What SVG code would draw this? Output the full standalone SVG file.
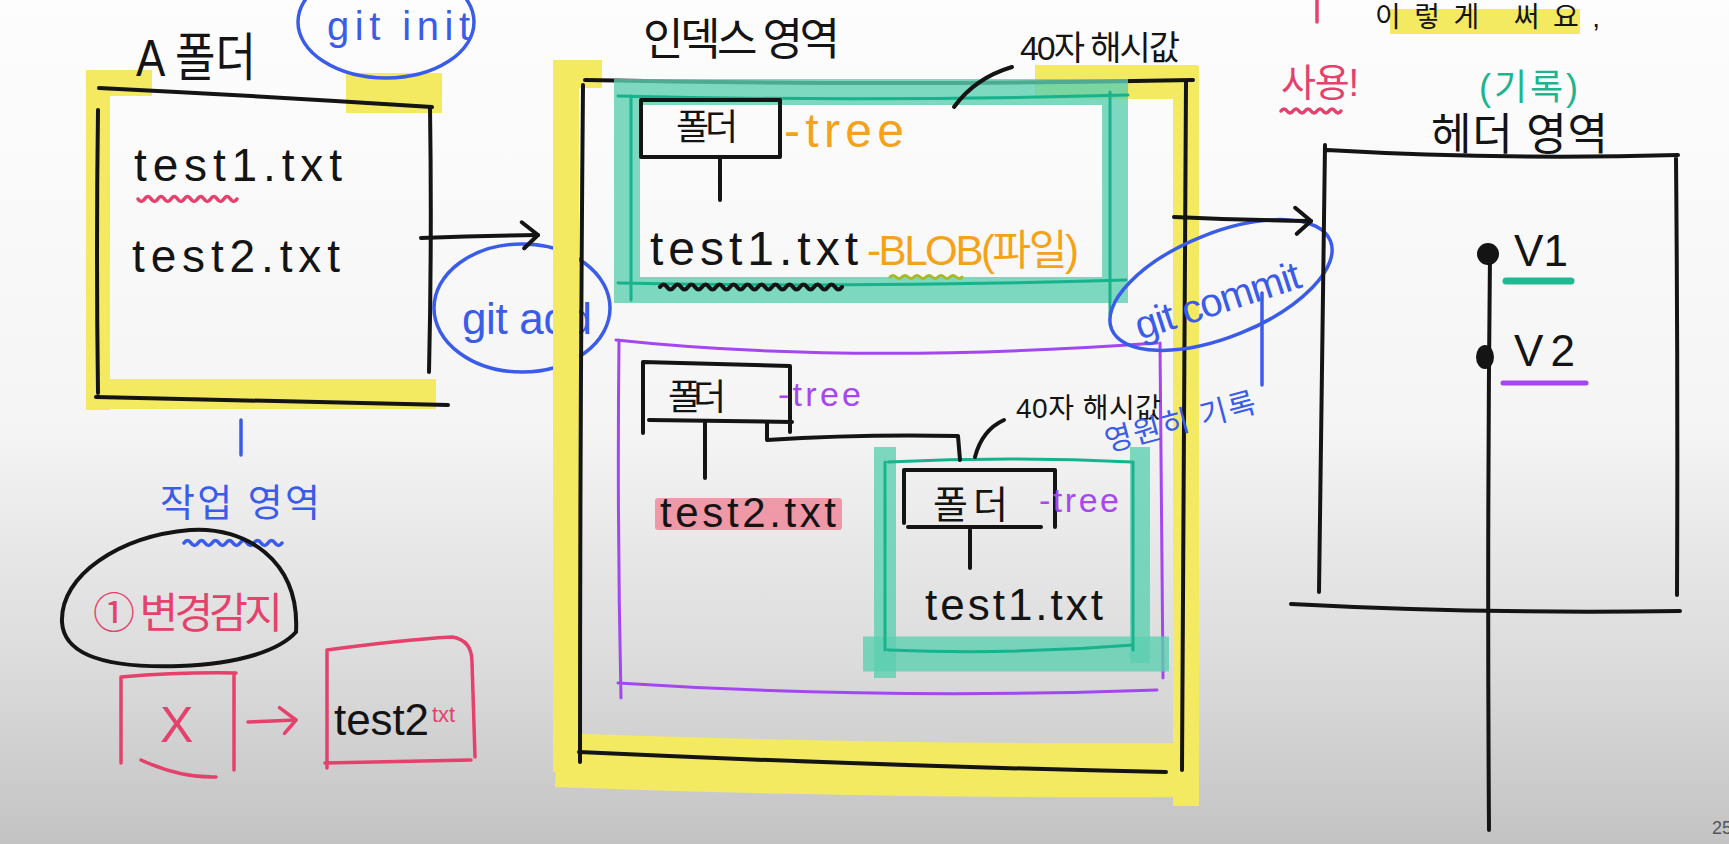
<svg xmlns="http://www.w3.org/2000/svg" width="1729" height="844" viewBox="0 0 1729 844">
<defs>
<linearGradient id="bg" x1="0" y1="0" x2="0" y2="1">
<stop offset="0" stop-color="#fdfdfd"/>
<stop offset="0.5" stop-color="#f5f5f5"/>
<stop offset="0.8" stop-color="#dadada"/>
<stop offset="1" stop-color="#c3c3c3"/>
</linearGradient>
<marker id="headBlack" viewBox="0 0 22 32" refX="19" refY="16" markerWidth="22" markerHeight="32" markerUnits="userSpaceOnUse" orient="auto">
<path d="M3 3 L19 16 L5 29" fill="none" stroke="#141414" stroke-width="4" stroke-linecap="round" stroke-linejoin="round"/>
</marker>
<marker id="headPink" viewBox="0 0 22 32" refX="19" refY="16" markerWidth="22" markerHeight="32" markerUnits="userSpaceOnUse" orient="auto">
<path d="M3 3 L19 16 L7 29" fill="none" stroke="#e4416c" stroke-width="3.5" stroke-linecap="round" stroke-linejoin="round"/>
</marker>
</defs>
<style>
text{font-family:"Liberation Sans","Noto Sans CJK KR",sans-serif}
.k{fill:#141414}
.tb{fill:#3a5ce8}
.tp{fill:#e4416c}
.to{fill:#f4a21a}
.tv{fill:#a447ef}
.tt{fill:#1db58f}
.ink{fill:none;stroke:#141414;stroke-width:4;stroke-linecap:round;stroke-linejoin:round}
.hl{fill:none;stroke:#f3ea62;stroke-linecap:butt}
.thl{fill:none;stroke:#5ccfb0;stroke-opacity:0.8}
.tl{fill:none;stroke:#17b38c;stroke-width:3;stroke-linecap:round}
.pl{fill:none;stroke:#a447ef;stroke-width:3;stroke-linecap:round}
.bl{fill:none;stroke:#3a5ce8;stroke-width:3.5;stroke-linecap:round}
.pk{fill:none;stroke:#e4416c;stroke-width:3.5;stroke-linecap:round;stroke-linejoin:round}
</style>
<rect x="0" y="0" width="1729" height="844" fill="url(#bg)"/>

<g id="a-folder">
<path class="hl" stroke-width="24" d="M98 70 V410"/>
<path class="hl" stroke-width="26" d="M98 83 H152"/>
<path class="hl" stroke-width="40" d="M346 93 H442"/>
<path class="hl" stroke-width="30" d="M98 394 H436"/>
<path class="ink" d="M99 88 Q260 96 432 107"/>
<path class="ink" d="M98 110 Q96 250 98 393"/>
<path class="ink" d="M430 107 Q432 240 429 372"/>
<path class="ink" d="M96 397 Q270 401 448 405"/>
<text class="k" x="136" y="76" font-size="52" textLength="120" lengthAdjust="spacingAndGlyphs">A 폴더</text>
<text class="k" x="134" y="181" font-size="46" textLength="208">test1.txt</text>
<path class="pk" stroke-width="3" d="M138 199 q3.3 5 6.6 0 t6.6 0 t6.6 0 t6.6 0 t6.6 0 t6.6 0 t6.6 0 t6.6 0 t6.6 0 t6.6 0 t6.6 0 t6.6 0 t6.6 0 t6.6 0 t6.6 0"/>
<text class="k" x="132" y="272" font-size="46" textLength="208">test2.txt</text>
</g>

<g id="git-init">
<ellipse class="bl" cx="386" cy="22" rx="88" ry="56"/>
<text class="tb" x="327" y="40" font-size="40" textLength="143">git init</text>
</g>

<g id="git-add">
<ellipse class="bl" cx="522" cy="308" rx="88" ry="64"/>
<text class="tb" x="462" y="334" font-size="44" textLength="130">git add</text>
</g>

<g id="work-area">
<path class="bl" d="M241 420 V455"/>
<text class="tb" x="160" y="516" font-size="38" textLength="160">작업 영역</text>
<path class="bl" stroke-width="3" d="M184 543 q3.5 -5 7 0 t7 0 t7 0 t7 0 t7 0 t7 0 t7 0 t7 0 t7 0 t7 0 t7 0 t7 0 t7 0 t7 0"/>
</g>

<g id="change-detect">
<path class="ink" stroke-width="3.5" d="M296 632 C300 560 245 526 190 530 C120 536 60 575 62 622 C64 660 120 668 180 666 C240 664 280 650 296 632"/>
<text class="tp" x="93" y="628" font-size="42" textLength="190">① 변경감지</text>
</g>

<g id="x-box">
<path class="pk" d="M121 677 Q180 672 236 673 M121 677 V763 M234 673 V770 M141 760 Q180 778 216 777"/>
<text class="tp" x="160" y="742" font-size="50">X</text>
</g>

<g id="test2-box">
<path class="pk" d="M327 650 V768 M327 650 Q400 640 452 637 Q472 640 472 662 L475 757 M325 763 L471 760"/>
<text class="k" x="334" y="735" font-size="44" textLength="95">test2</text>
<text class="tp" x="432" y="722" font-size="22">txt</text>
</g>

<g id="index-area">
<path class="hl" stroke-width="26" d="M566 60 V772"/>
<path class="hl" stroke-width="28" d="M566 74 H602"/>
<path class="hl" stroke-width="34" d="M1035 82 H1198"/>
<path class="hl" stroke-width="26" d="M1186 66 V806"/>
<path class="hl" stroke-width="54" d="M556 760 Q880 772 1198 770"/>
<path class="ink" d="M585 80 Q890 86 1193 80"/>
<path class="ink" d="M583 85 Q580 420 580 762"/>
<path class="ink" d="M1186 82 Q1184 420 1182 770"/>
<path class="ink" d="M579 752 Q880 766 1166 772"/>
<text class="k" x="643" y="55" font-size="44" textLength="197">인덱스 영역</text>
</g>

<g id="hash-label-1">
<text class="k" x="1020" y="60" font-size="34" textLength="160">40자 해시값</text>
</g>

<g id="tree-commit-1">
<path class="thl" stroke-width="26" d="M627 92 H1115 V290 H627 Z"/>
<path class="tl" d="M618 96 Q870 102 1128 95 M631 96 V300 M618 283 Q870 288 1126 280 M1110 92 V315"/>
</g>

<g id="folder-1">
<path class="ink" d="M641 100 H780 V157 H641 Z"/>
<text class="k" x="676" y="140" font-size="36" textLength="62">폴더</text>
<text class="to" x="784" y="147" font-size="48" textLength="120">-tree</text>
</g>

<g id="blob-1">
<text class="k" x="650" y="265" font-size="48" textLength="208">test1.txt</text>
<text class="to" x="867" y="265" font-size="42" textLength="212">-BLOB(파일)</text>
<path class="ink" stroke-width="3" d="M660 287 q3.5 -5 7 0 t7 0 t7 0 t7 0 t7 0 t7 0 t7 0 t7 0 t7 0 t7 0 t7 0 t7 0 t7 0 t7 0 t7 0 t7 0 t7 0 t7 0 t7 0 t7 0 t7 0 t7 0 t7 0 t7 0 t7 0 t7 0"/>
<path fill="none" stroke="#a9b82a" stroke-width="3" stroke-linecap="round" d="M890 277 q3 -3 6 0 t6 0 t6 0 t6 0 t6 0 t6 0 t6 0 t6 0 t6 0 t6 0 t6 0 t6 0"/>
</g>

<g id="tree-commit-2">
<path class="pl" d="M616 340 Q850 365 1157 343 M619 340 Q617 520 621 698 M1160 343 Q1162 520 1163 678 M618 683 Q880 700 1157 690"/>
</g>

<g id="folder-2">
<path class="ink" d="M643 362 L790 366 V432 M643 362 V433 M649 420 L792 422"/>
<text class="k" x="668" y="410" font-size="36" textLength="58">폴더</text>
<text class="tv" x="778" y="406" font-size="34" textLength="83">-tree</text>
</g>

<g id="blob-2">
<rect x="655" y="498" width="187" height="32" rx="3" fill="#f08a9b" fill-opacity="0.85"/>
<text class="k" x="660" y="527" font-size="42" textLength="176">test2.txt</text>
</g>

<g id="hash-label-2">
<text class="k" x="1016" y="418" font-size="28" textLength="145">40자 해시값</text>
</g>

<g id="subtree">
<path class="thl" stroke-width="22" d="M885 447 V678"/>
<path class="thl" stroke-width="20" d="M1140 447 V663"/>
<path class="thl" stroke-width="35" d="M863 654 H1169"/>
<path class="tl" d="M888 462 Q1010 456 1132 462 M885 462 V650 M888 650 Q1010 655 1133 645 M1133 462 V650"/>
</g>

<g id="folder-3">
<path class="ink" d="M904 470 L1055 470 V527 M904 470 V523 M908 527 L1041 527"/>
<text class="k" x="933" y="518" font-size="38" textLength="75">폴더</text>
<text class="tv" x="1039" y="512" font-size="34" textLength="80">-tree</text>
</g>

<g id="blob-3">
<text class="k" x="925" y="620" font-size="44" textLength="178">test1.txt</text>
</g>

<g id="git-commit">
<ellipse class="bl" cx="1221" cy="285" rx="118" ry="52" transform="rotate(-22 1221 285)"/>
<text class="tb" x="1140" y="340" font-size="40" textLength="172" transform="rotate(-18 1140 340)">git commit</text>
<path class="bl" d="M1262 293 V385"/>
<text class="tb" x="1108" y="452" font-size="30" textLength="155" transform="rotate(-15 1108 452)">영원히 기록</text>
</g>

<g id="top-note">
<path class="pk" d="M1317 0 V22"/>
<rect x="1390" y="9" width="190" height="25" fill="#f3ea62"/>
<text class="k" x="1375" y="27" font-size="28" textLength="225">이렇게 써요,</text>
<text class="tp" x="1281" y="96" font-size="38" textLength="78">사용!</text>
<path class="pk" stroke-width="3" d="M1281 111 q3 -4 6 0 t6 0 t6 0 t6 0 t6 0 t6 0 t6 0 t6 0 t6 0 t6 0"/>
</g>

<g id="head-area">
<text class="tt" x="1479" y="100" font-size="36" textLength="99">(기록)</text>
<text class="k" x="1431" y="150" font-size="44" textLength="177">헤더 영역</text>
<path class="ink" d="M1327 150 Q1500 160 1678 155 M1325 145 Q1322 380 1319 592 M1676 158 Q1678 380 1677 595 M1291 604 Q1480 614 1680 611"/>
<path class="ink" d="M1490 253 Q1487 540 1489 830"/>
</g>

<g id="v1">
<circle cx="1488" cy="254" r="11" fill="#141414"/>
<text class="k" x="1514" y="266" font-size="44" textLength="54">V1</text>
<path d="M1506 281 H1571" stroke="#20ba92" stroke-width="7" stroke-linecap="round"/>
</g>

<g id="v2">
<ellipse cx="1485" cy="357" rx="9" ry="12" fill="#141414"/>
<text class="k" x="1514" y="366" font-size="44" textLength="61">V2</text>
<path d="M1503 383 H1586" stroke="#a447ef" stroke-width="5" stroke-linecap="round"/>
</g>

<g id="connectors">
<path class="ink" marker-end="url(#headBlack)" d="M421 238 Q480 236 538 235"/>
<path class="ink" marker-end="url(#headBlack)" d="M1174 217 Q1240 220 1311 221"/>
<path class="pk" marker-end="url(#headPink)" d="M248 722 L296 720"/>
<path class="ink" d="M954 107 Q975 78 1012 67"/>
<path class="ink" d="M720 157 V200"/>
<path class="ink" d="M705 423 V478"/>
<path class="ink" d="M767 422 V440 Q860 434 958 436 L960 460"/>
<path class="ink" d="M975 457 Q982 430 1004 420"/>
<path class="ink" d="M970 530 V568"/>
</g>

<text x="1712" y="834" font-size="18" fill="#555">25</text>
</svg>
